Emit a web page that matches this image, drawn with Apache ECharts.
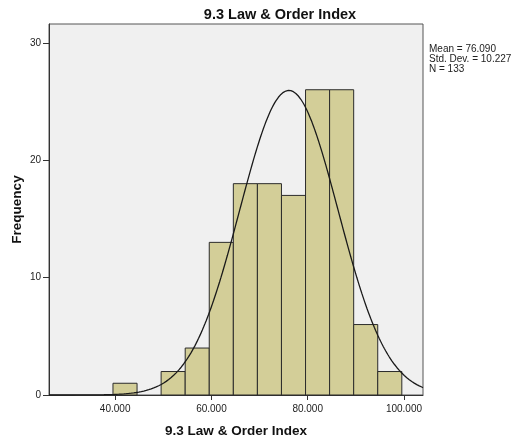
<!DOCTYPE html>
<html>
<head>
<meta charset="utf-8">
<script src="https://cdn.jsdelivr.net/npm/echarts@6/dist/echarts.min.js"></script>
<style>
  html, body { margin: 0; padding: 0; background: #fff; }
  #chart { width: 515px; height: 443px; }
</style>
</head>
<body>
<div id="chart"></div>
<script>
// Histogram bins: lower edge, upper edge and frequency of each bin
const binLower = [39.55, 44.55, 49.55, 54.55, 59.55, 64.55, 69.55, 74.55, 79.55, 84.55, 89.55, 94.55];
const binUpper = [44.55, 49.55, 54.55, 59.55, 64.55, 69.55, 74.55, 79.55, 84.55, 89.55, 94.55, 99.55];
const frequency = [1, 0, 2, 4, 13, 18, 18, 17, 26, 26, 6, 2];

// Summary statistics shown beside the plot
const mean = 76.090;
const stdDev = 10.227;
const n = 133;
const binWidth = 5;

// Axis tick labels
const xTicks = [40, 60, 80, 100];
const yTicks = [0, 10, 20, 30];

const FONT = '"Liberation Sans", Arial, sans-serif';

// Bar rectangles as [lower, upper, count]
const barData = binLower.map((lo, i) => [lo, binUpper[i], frequency[i]]);

// Normal density scaled to the histogram (N * bin width)
const xMin = 26.26, xMax = 103.95;
const curve = [];
for (let k = 0; k <= 300; k++) {
  const x = xMin + (xMax - xMin) * k / 300;
  const z = (x - mean) / stdDev;
  curve.push([x, n * binWidth * Math.exp(-0.5 * z * z) / (stdDev * Math.sqrt(2 * Math.PI))]);
}

const chart = echarts.init(document.getElementById('chart'), null, { renderer: 'canvas' });

chart.setOption({
  animation: false,
  backgroundColor: '#ffffff',
  title: {
    text: '9.3 Law & Order Index',
    left: 280,
    textAlign: 'center',
    top: 7,
    padding: 0,
    textStyle: { fontFamily: FONT, fontSize: 14.5, fontWeight: 'bold', color: '#111' }
  },
  grid: {
    left: 49, right: 92, top: 24, bottom: 48,
    containLabel: false,
    outerBoundsMode: 'none',
    show: true,
    backgroundColor: '#f0f0f0',
    borderColor: '#555',
    borderWidth: 1
  },
  xAxis: {
    type: 'value',
    min: xMin,
    max: xMax,
    name: '9.3 Law & Order Index',
    nameLocation: 'middle',
    nameGap: 29,
    nameMoveOverlap: false,
    nameTextStyle: { fontFamily: FONT, fontSize: 13.5, fontWeight: 'bold', color: '#111' },
    splitLine: { show: false },
    axisLine: { show: true, lineStyle: { color: '#333', width: 1 } },
    axisTick: { show: true, length: 5, customValues: xTicks, lineStyle: { color: '#333' } },
    axisLabel: {
      customValues: xTicks,
      margin: 9,
      fontFamily: FONT, fontSize: 10, color: '#222',
      formatter: v => v.toFixed(3)
    }
  },
  yAxis: {
    type: 'value',
    min: 0,
    max: 31.6,
    name: 'Frequency',
    nameLocation: 'middle',
    nameGap: 25,
    nameRotate: 90,
    nameMoveOverlap: false,
    nameTextStyle: { fontFamily: FONT, fontSize: 13.5, fontWeight: 'bold', color: '#111' },
    splitLine: { show: false },
    axisLine: { show: true, lineStyle: { color: '#333', width: 1 } },
    axisTick: { show: true, length: 6, customValues: yTicks, lineStyle: { color: '#333' } },
    axisLabel: {
      customValues: yTicks,
      margin: 8,
      fontFamily: FONT, fontSize: 10, color: '#222'
    }
  },
  series: [
    {
      type: 'custom',
      data: barData,
      encode: { x: [0, 1], y: 2 },
      renderItem: function (params, api) {
        const count = api.value(2);
        if (!count) return null;
        const p0 = api.coord([api.value(0), count]);
        const p1 = api.coord([api.value(1), 0]);
        return {
          type: 'rect',
          shape: { x: p0[0], y: p0[1], width: p1[0] - p0[0], height: p1[1] - p0[1] },
          style: { fill: '#d3ce98', stroke: '#2b2b2b', lineWidth: 1 }
        };
      },
      z: 2
    },
    {
      type: 'line',
      data: curve,
      showSymbol: false,
      symbol: 'none',
      smooth: false,
      clip: true,
      lineStyle: { color: '#1a1a1a', width: 1.3 },
      z: 3
    }
  ],
  graphic: [
    {
      type: 'text',
      left: 429,
      top: 44,
      style: {
        text: 'Mean = ' + mean.toFixed(3) + '\nStd. Dev. = ' + stdDev.toFixed(3) + '\nN = ' + n,
        font: '10px ' + FONT,
        lineHeight: 10,
        fill: '#222'
      }
    }
  ]
});
</script>
</body>
</html>
